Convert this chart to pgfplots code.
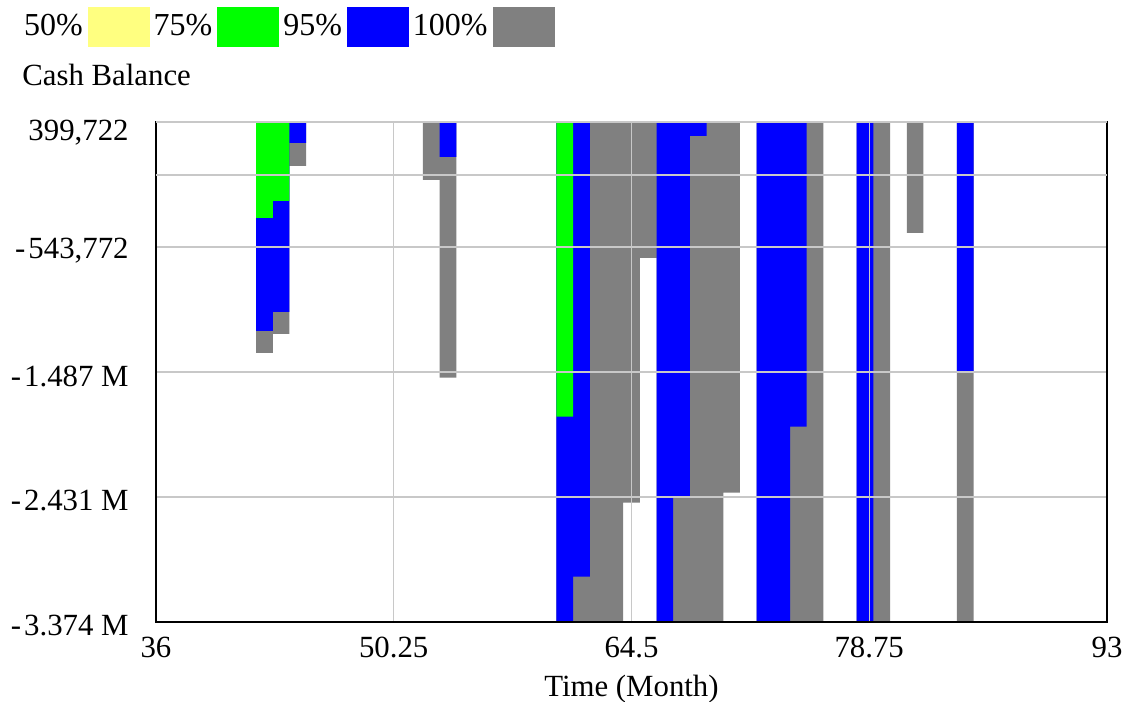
\documentclass[border=0pt]{standalone}
\usepackage{fontspec}
\setmainfont{Liberation Serif}
\usepackage{pgfplots}
\pgfplotsset{compat=1.18}
\usepackage{pgfplotstable}
\definecolor{band50}{RGB}{255,255,128}
\definecolor{band75}{RGB}{0,255,0}
\definecolor{band95}{RGB}{0,0,255}
\definecolor{band100}{RGB}{128,128,128}
\definecolor{gridgray}{RGB}{200,200,200}

% lower bound of each band (upper bound is the top of the range, 399722)
\pgfplotstableread{
t low
36 399722
42 -1342018
43 -1198758
44 67962
45 399722
52 -37598
53 -1530518
54 399722
60 -3374254
61 -3374254
62 -3374254
63 -3374254
64 -2473018
65 -625718
66 -3374254
67 -3374254
68 -3374254
69 -3374254
70 -2397618
71 399722
72 -3374254
76 399722
78 -3374254
80 399722
81 -437218
82 399722
84 -3374254
85 399722
93 399722
}\grayband

\pgfplotstableread{
t low
36 399722
42 -1176138
43 -1032878
44 241382
45 399722
53 135822
54 399722
60 -3374254
61 -3030978
62 399722
66 -3374254
67 -2427778
68 294162
69 399722
72 -3374254
74 -1899978
75 399722
78 -3374254
79 399722
84 -1485278
85 399722
93 399722
}\blueband

\pgfplotstableread{
t low
36 399722
42 -324118
43 -195938
44 399722
60 -1824578
61 399722
93 399722
}\greenband

\begin{document}
\fontsize{15.4}{18}\selectfont
\begin{tikzpicture}
\path[use as bounding box] (0,0) rectangle (561.5pt,350.5pt);
\begin{axis}[
  at={(78pt,39.5pt)}, anchor=south west,
  scale only axis, width=475.5pt, height=250pt,
  xmin=36, xmax=93, ymin=-3374254, ymax=399722,
  scaled y ticks=false, scaled x ticks=false,
  xtick={36,50.25,64.5,78.75,93},
  xticklabels={36,50.25,64.5,78.75,93},
  ytick={-543772,-1487266,-2430760,-3374254},
  yticklabels={{-\kern1.5pt543,772},{-\kern1.5pt1.487 M},{-\kern1.5pt2.431 M},{-\kern1.5pt3.374 M}},
  extra y ticks={399722,0},
  extra y tick labels={{399,722},{}},
  extra y tick style={grid=major, yticklabel style={yshift=-3.5pt}},
  grid=major,
  major grid style={gridgray, line width=0.75pt},
  major tick length=0pt,
  axis on top,
  axis line style={black, line width=1.1pt},
  xticklabel style={inner sep=0pt, anchor=north, yshift=-7.5pt},
  yticklabel style={inner sep=0pt, anchor=east, xshift=-13.5pt, yshift=-2pt},
  xlabel={Time (Month)},
  xlabel style={at={(axis description cs:0.5,0)}, anchor=north, inner sep=0pt, yshift=-26.5pt},
  legend columns=4, legend plot pos=right,
  legend image code/.code={\fill[#1] (0pt,-10pt) rectangle (31pt,10pt);},
  legend style={at={(axis description cs:-0.1388,1.23)}, anchor=north west,
    font=\fontsize{16}{19}\selectfont,
    draw=none, fill=none, inner sep=0pt, outer sep=0pt, nodes={inner sep=0pt},
    /tikz/every odd column/.append style={column sep=2.5pt},
    /tikz/every even column/.append style={column sep=2pt}},
  /pgf/number format/assume math mode=true,
]
\addlegendimage{fill=band50, draw=none}\addlegendentry{50\%}
\addlegendimage{fill=band75, draw=none}\addlegendentry{75\%}
\addlegendimage{fill=band95, draw=none}\addlegendentry{95\%}
\addlegendimage{fill=band100, draw=none}\addlegendentry{100\%}

\addplot[const plot mark left, fill=band100, draw=none, forget plot] table[x=t,y=low]{\grayband} -- cycle;
\addplot[const plot mark left, fill=band95, draw=none, forget plot] table[x=t,y=low]{\blueband} -- cycle;
\addplot[const plot mark left, fill=band75, draw=none, forget plot] table[x=t,y=low]{\greenband} -- cycle;
\end{axis}
\node[anchor=base west, inner sep=0pt] at (11pt,307.5pt) {Cash Balance};
\end{tikzpicture}
\end{document}
